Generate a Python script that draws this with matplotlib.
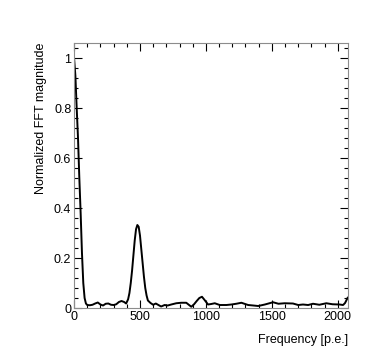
import numpy as np
import matplotlib
matplotlib.use("Agg")
import matplotlib.pyplot as plt
from matplotlib.ticker import MultipleLocator

plt.rcParams['font.family'] = ['Liberation Sans', 'DejaVu Sans']

# frequency [p.e.] and normalized FFT magnitude
freq = [0, 10, 20, 30, 40, 50, 60, 70, 80, 90, 100, 120, 140, 160, 180, 200,
        220, 240, 260, 280, 300, 320, 340, 360, 380, 395, 410, 420, 430, 440,
        450, 460, 470, 480, 490, 500, 510, 520, 530, 540, 550, 560, 580, 600,
        620, 640, 660, 687, 710, 737, 775, 813, 851, 889, 910, 930, 950, 970,
        990, 1016, 1040, 1067, 1105, 1155, 1193, 1230, 1269, 1320, 1360, 1396,
        1447, 1509, 1550, 1597, 1660, 1700, 1736, 1775, 1812, 1860, 1913, 1960,
        2014, 2040, 2055, 2075]
mag = [1.0, 0.93, 0.80, 0.68, 0.52, 0.38, 0.22, 0.10, 0.04, 0.018, 0.012,
       0.011, 0.013, 0.018, 0.022, 0.014, 0.010, 0.017, 0.018, 0.013, 0.012,
       0.015, 0.024, 0.028, 0.024, 0.018, 0.035, 0.06, 0.10, 0.15, 0.21, 0.27,
       0.315, 0.332, 0.325, 0.29, 0.235, 0.18, 0.125, 0.08, 0.05, 0.03, 0.02,
       0.013, 0.018, 0.012, 0.006, 0.012, 0.010, 0.014, 0.019, 0.021, 0.021,
       0.005, 0.015, 0.028, 0.040, 0.045, 0.032, 0.014, 0.016, 0.019, 0.012,
       0.012, 0.014, 0.017, 0.021, 0.012, 0.010, 0.008, 0.014, 0.023, 0.017,
       0.019, 0.018, 0.012, 0.014, 0.012, 0.017, 0.013, 0.019, 0.015, 0.014,
       0.012, 0.02, 0.041]

fig = plt.figure(figsize=(3.74, 3.63), dpi=100)
ax = fig.add_axes([0.198, 0.1515, 0.732, 0.73])
ax.plot(freq, mag, color='black', lw=1.4)

ax.set_xlim(0, 2076)
ax.set_ylim(0, 1.06)
ax.xaxis.set_major_locator(MultipleLocator(500))
ax.xaxis.set_minor_locator(MultipleLocator(100))
ax.yaxis.set_minor_locator(MultipleLocator(0.04))
ax.set_yticks([0, 0.2, 0.4, 0.6, 0.8, 1.0])
ax.set_yticklabels(['0', '0.2', '0.4', '0.6', '0.8', '1'])
ax.tick_params(which='both', direction='in', top=True, right=True,
               labelsize=9, pad=2)
ax.tick_params(which='major', length=6, width=0.8)
ax.tick_params(which='minor', length=3, width=0.8)
for s in ax.spines.values():
    s.set_color('0.55')

ax.set_xlabel('Frequency [p.e.]', fontsize=9, loc='right', labelpad=8)
ax.set_ylabel('Normalized FFT magnitude', fontsize=9, loc='top', labelpad=5)

fig.savefig('out.png', dpi=100)
